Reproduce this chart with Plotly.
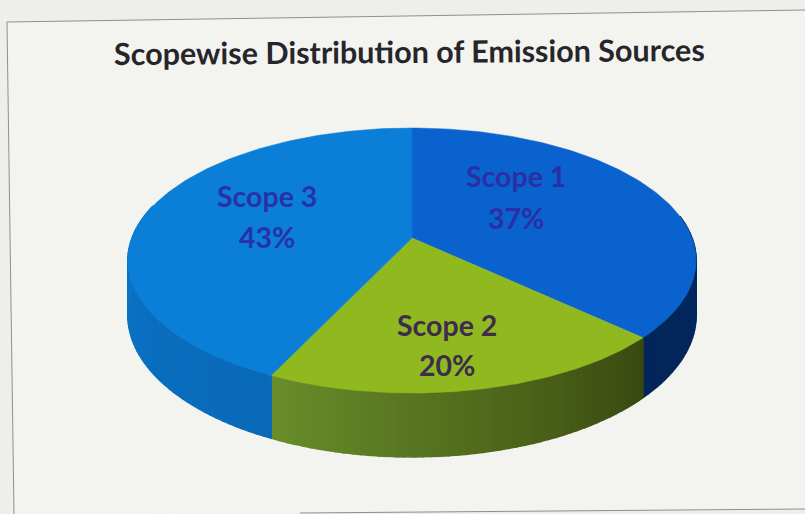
import numpy as np
import plotly.graph_objects as go

title = "Scopewise Distribution of Emission Sources"
categories = ["Scope 1", "Scope 2", "Scope 3"]
values = [37, 20, 43]
label_x = [516, 447, 267]
name_y = [176, 325, 196]
value_y = [218, 365, 237]
top_colors = ["#0a62cf", "#8fb91f", "#0b7fd8"]
text_colors = ["#2b2fa6", "#3d2c4e", "#2732a8"]
# side shading per slice: colour at slice start angle, colour at slice end angle
side_start = [(5, 40, 100), (58, 72, 16), (10, 105, 185)]
side_end = [(3, 38, 90), (104, 142, 42), (10, 130, 215)]

# Projection of the unit disc into the picture (perspective view)
CX, CY, B, A, K, DEPTH = 412, 238, 280, 128.7, 0.17, 53


def project(deg, r=1.0, drop=0.0):
    t = np.radians(deg)
    X, Y = r * np.sin(t), r * np.cos(t)
    d = 1 + K * Y
    return CX + B * X / d, CY - A * Y / d + drop / d


fig = go.Figure()
bounds = np.concatenate([[0], np.cumsum(values)]) * 3.6

# Sides (only the visible front part of the rim)
for i in range(len(values)):
    a0, a1 = bounds[i], bounds[i + 1]
    lo, hi = max(a0, 80), min(a1, 285)
    if lo >= hi:
        continue
    n = max(1, int((hi - lo) / 1.5))
    edges = np.linspace(lo, hi, n + 1)
    for j in range(n):
        f = ((edges[j] + edges[j + 1]) / 2 - a0) / (a1 - a0)
        c = [round(s + (e - s) * f) for s, e in zip(side_start[i], side_end[i])]
        col = f"rgb({c[0]},{c[1]},{c[2]})"
        ang = np.linspace(edges[j], edges[j + 1], 3)
        xt, yt = project(ang)
        xb, yb = project(ang[::-1], drop=DEPTH)
        fig.add_trace(go.Scatter(
            x=np.r_[xt, xb, xt[0]], y=np.r_[yt, yb, yt[0]], mode="lines",
            fill="toself", fillcolor=col, line=dict(color=col, width=1.5),
            hoverinfo="skip", showlegend=False))

# Top faces
for i, name in enumerate(categories):
    ang = np.linspace(bounds[i], bounds[i + 1], 120)
    x, y = project(ang)
    x0, y0 = project(0, r=0)
    fig.add_trace(go.Scatter(
        x=np.r_[x0, x, x0], y=np.r_[y0, y, y0], mode="lines", name=name,
        fill="toself", fillcolor=top_colors[i],
        line=dict(color=top_colors[i], width=0.5),
        hoverinfo="skip", showlegend=False))

# Slice labels
for i, name in enumerate(categories):
    font = dict(family="Lato", size=28.5, color=text_colors[i])
    fig.add_annotation(x=label_x[i], y=name_y[i], text=f"<b>{name}</b>", showarrow=False, font=font)
    fig.add_annotation(x=label_x[i], y=value_y[i], text=f"<b>{values[i]}%</b>", showarrow=False, font=font)

fig.add_annotation(
    x=409, y=51, text=f"<b>{title}</b>", showarrow=False, textangle=-0.4,
    font=dict(family="Lato", size=30.5, color="#26262a"))

frame = dict(type="line", layer="below", line=dict(color="#8f8f8f", width=1))
fig.update_layout(
    width=805, height=514, margin=dict(l=0, r=0, t=0, b=0),
    paper_bgcolor="#eeeeeb", plot_bgcolor="rgba(0,0,0,0)",
    xaxis=dict(range=[0, 805], visible=False, fixedrange=True),
    yaxis=dict(range=[514, 0], visible=False, fixedrange=True),
    shapes=[
        dict(type="path", layer="below", path="M 7 22 L 805 10 L 805 509 L 300 513 L 14 514 Z",
             fillcolor="#f3f3f0", line=dict(width=0)),
        dict(x0=7, y0=22, x1=805, y1=10, **frame),
        dict(x0=7, y0=22, x1=14, y1=514, **frame),
        dict(x0=300, y0=513, x1=805, y1=509, **frame),
    ],
)
fig.write_html("out.html", config={"displayModeBar": False},
               post_script="document.body.style.margin='0';document.documentElement.style.overflow='hidden';")
